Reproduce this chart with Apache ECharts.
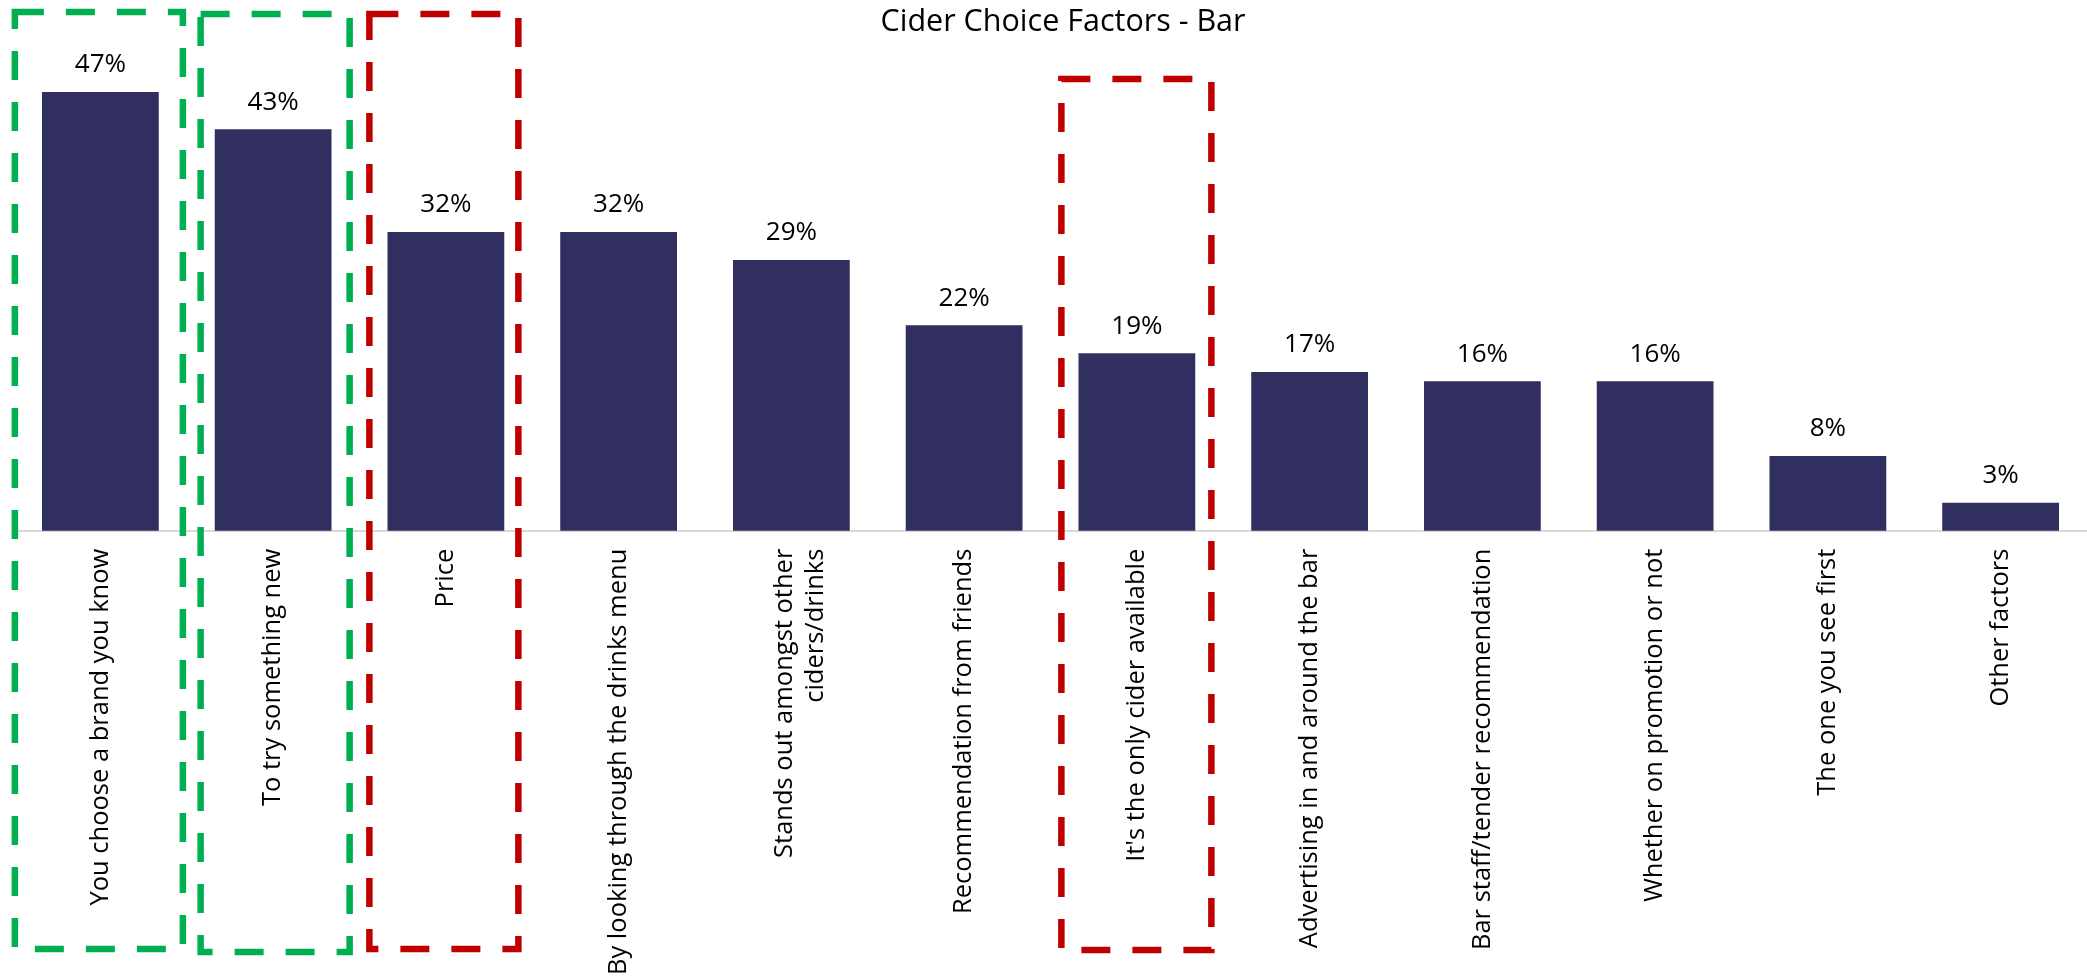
<!DOCTYPE html>
<html>
<head>
<meta charset="utf-8">
<title>Cider Choice Factors - Bar</title>
<script src="https://cdn.jsdelivr.net/npm/echarts@6/dist/echarts.min.js"></script>
<style>
  html, body { margin: 0; padding: 0; background: #ffffff; }
  #chart { width: 2087px; height: 978px; }
</style>
</head>
<body>
<div id="chart"></div>
<script>
// Survey answers: what drives the choice of cider at the bar
const categories = [
  'You choose a brand you know',
  'To try something new',
  'Price',
  'By looking through the drinks menu',
  'Stands out amongst other\nciders/drinks',
  'Recommendation from friends',
  "It's the only cider available",
  'Advertising in and around the bar',
  'Bar staff/tender recommendation',
  'Whether on promotion or not',
  'The one you see first',
  'Other factors'
];
const shares = [47, 43, 32, 32, 29, 22, 19, 17, 16, 16, 8, 3];

// Categories called out with dashed frames
const positiveCallouts = [0, 1];
const negativeCallouts = [2, 6];

// Frame geometry (pixels) for each called-out category
const frameStyle = {
  0: { width: 168, top: 12, bottom: 949, shift: -1.5 },
  1: { width: 149, top: 14, bottom: 952, shift: 2 },
  2: { width: 149, top: 14, bottom: 949, shift: -2 },
  6: { width: 150, top: 79, bottom: 950, shift: -0.5 }
};

const FONT = '"Open Sans", "Noto Sans", sans-serif';

const chart = echarts.init(document.getElementById('chart'), null, { renderer: 'canvas' });

// Wrapped labels get a thin spacer line so the pair sits a little right of the bar centre
function categoryLabel(name) {
  if (name.indexOf('\n') < 0) return name;
  return '{gap| }\n' + name.split('\n').map(line => '{t|' + line + '}').join('\n');
}

chart.setOption({
  backgroundColor: '#ffffff',
  animation: false,
  title: {
    text: 'Cider Choice Factors - Bar',
    left: 1058,
    top: 2,
    textAlign: 'center',
    textStyle: { fontFamily: FONT, fontSize: 30.5, fontWeight: 'normal', color: '#000000' }
  },
  grid: { left: 14, width: 2076, top: 64, bottom: 445, containLabel: false },
  xAxis: {
    type: 'category',
    data: categories,
    axisLine: { show: true, lineStyle: { color: '#D9D9D9', width: 2 } },
    axisTick: { show: false },
    axisLabel: {
      interval: 0,
      rotate: 90,
      margin: 18,
      fontFamily: FONT,
      fontSize: 25.5,
      color: '#000000',
      lineHeight: 31,
      formatter: categoryLabel,
      rich: {
        gap: { fontSize: 4, lineHeight: 18 },
        t: { fontFamily: FONT, fontSize: 25.5, color: '#000000', lineHeight: 31 }
      }
    }
  },
  yAxis: {
    type: 'value',
    min: 0,
    max: 50,
    show: false,
    splitLine: { show: false }
  },
  series: [{
    type: 'bar',
    data: shares,
    barWidth: '67.6%',
    itemStyle: { color: '#312F5F' },
    label: {
      show: true,
      position: 'top',
      distance: 14,
      formatter: (p) => p.value + '%',
      fontFamily: FONT,
      fontSize: 26,
      color: '#000000'
    }
  }]
});

// Dashed frames around the called-out categories, placed from the category axis
function frameFor(index, color) {
  const f = frameStyle[index];
  const cx = chart.convertToPixel({ xAxisIndex: 0 }, index) + f.shift;
  return {
    type: 'rect',
    z: 100,
    silent: true,
    shape: { x: cx - f.width / 2, y: f.top, width: f.width, height: f.bottom - f.top },
    style: { fill: null, stroke: color, lineWidth: 6.5, lineDash: [29, 22] }
  };
}

const frames = []
  .concat(positiveCallouts.map(i => frameFor(i, '#00B050')))
  .concat(negativeCallouts.map(i => frameFor(i, '#C00000')));

chart.setOption({ graphic: frames });
</script>
</body>
</html>
